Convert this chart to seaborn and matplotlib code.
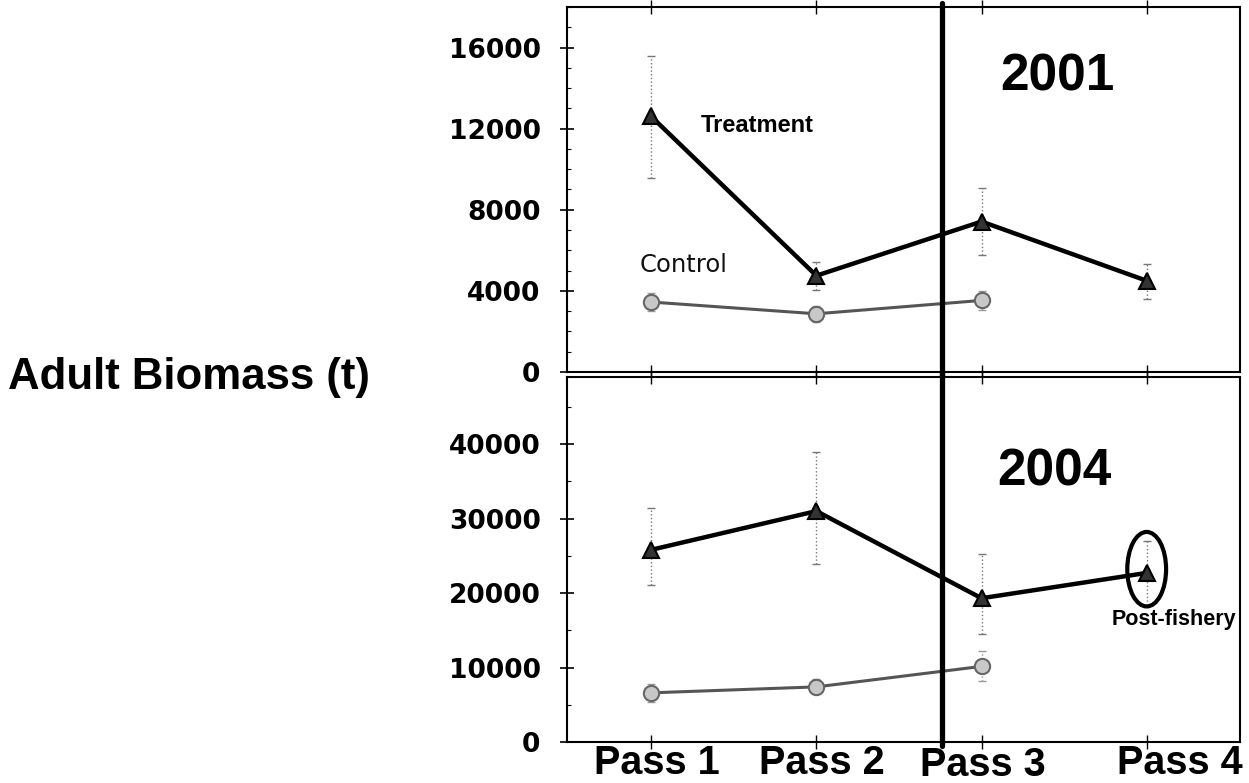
import numpy as np
import pandas as pd
import matplotlib
matplotlib.use("Agg")
import matplotlib.pyplot as plt
from matplotlib import font_manager
from matplotlib.patches import Ellipse
from matplotlib.ticker import MultipleLocator
import seaborn as sns

# ---------------- data ----------------
passes = ["Pass 1", "Pass 2", "Pass 3", "Pass 4"]

treat_2001 = [12600, 4750, 7420, 4500]
treat_2001_lo = [9550, 4020, 5780, 3580]
treat_2001_hi = [15600, 5420, 9060, 5350]
ctrl_2001 = [3450, 2870, 3530]
ctrl_2001_err = [450, 400, 450]

treat_2004 = [25800, 31000, 19300, 22700]
treat_2004_lo = [21100, 23900, 14500, 18400]
treat_2004_hi = [31400, 38900, 25200, 27000]
ctrl_2004 = [6600, 7400, 10150]
ctrl_2004_err = [1200, 1000, 2000]

yticks_2001 = [0, 4000, 8000, 12000, 16000]
yticks_2004 = [0, 10000, 20000, 30000, 40000]

# ---------------- style ----------------
sns.set_style("ticks")
names = {f.name for f in font_manager.fontManager.ttflist}
NARROW = "Liberation Sans Narrow" if "Liberation Sans Narrow" in names else "Liberation Sans"
plt.rcParams["font.family"] = ["Liberation Sans", "DejaVu Sans"]
plt.rcParams["text.color"] = "black"
plt.rcParams["xtick.color"] = "black"
plt.rcParams["ytick.color"] = "black"
plt.rcParams["xtick.labelcolor"] = "black"
plt.rcParams["ytick.labelcolor"] = "black"

fig = plt.figure(figsize=(12.49, 7.83), dpi=100)
W, H = 1249, 783
left, right = 567, 1240
ax1 = fig.add_axes([left / W, (H - 372) / H, (right - left) / W, (372 - 7) / H])
ax2 = fig.add_axes([left / W, (H - 742) / H, (right - left) / W, (742 - 377) / H])

xpos = np.arange(1, len(passes) + 1)


def draw_panel(ax, treat, lo, hi, ctrl, cerr, ylim, yticks, minor):
    nt = len(treat)
    nc = len(ctrl)
    dft = pd.DataFrame({"x": xpos[:nt], "y": treat})
    dfc = pd.DataFrame({"x": xpos[:nc], "y": ctrl})
    t = np.array(treat)
    eb = ax.errorbar(xpos[:nt], t, yerr=[t - np.array(lo), np.array(hi) - t],
                     fmt="none", ecolor="#777777", elinewidth=1.0, capsize=3,
                     capthick=1.0, zorder=1)
    for lc in eb[2]:
        lc.set_linestyle(":")
    eb2 = ax.errorbar(xpos[:nc], ctrl, yerr=cerr, fmt="none", ecolor="#999999",
                      elinewidth=1.0, capsize=3, capthick=1.0, zorder=1)
    for lc in eb2[2]:
        lc.set_linestyle(":")
    sns.lineplot(data=dfc, x="x", y="y", ax=ax, color="#555555", linewidth=2.2,
                 marker="o", markersize=11, markerfacecolor="#c8c8c8",
                 markeredgecolor="#666666", markeredgewidth=1.5, zorder=3)
    sns.lineplot(data=dft, x="x", y="y", ax=ax, color="black", linewidth=3.2,
                 marker="^", markersize=12, markerfacecolor="#333333",
                 markeredgecolor="black", markeredgewidth=1.5, zorder=4)
    ax.set_xlim(0.49, 4.565)
    ax.set_ylim(*ylim)
    ax.set_yticks(yticks)
    ax.set_yticklabels([str(v) for v in yticks], fontfamily="DejaVu Sans",
                       fontweight="bold", fontsize=19, color="black")
    ax.yaxis.set_minor_locator(MultipleLocator(minor))
    ax.set_xticks(xpos)
    ax.set_xticklabels([])
    ax.set_xlabel("")
    ax.set_ylabel("")
    ax.tick_params(axis="y", which="major", direction="inout", length=10, width=1.2, pad=14)
    ax.tick_params(axis="y", which="minor", direction="in", length=3, width=0.8)
    ax.tick_params(axis="x", which="major", direction="inout", length=10, width=1.0,
                   top=True, bottom=True)
    for s in ax.spines.values():
        s.set_linewidth(1.5)
        s.set_color("black")
        s.set_visible(True)
    ax.axvline(2.76, color="black", linewidth=3.8, zorder=5, clip_on=False,
               ymin=-0.01, ymax=1.01)


draw_panel(ax1, treat_2001, treat_2001_lo, treat_2001_hi, ctrl_2001, ctrl_2001_err,
           (0, 18000), yticks_2001, 1000)
draw_panel(ax2, treat_2004, treat_2004_lo, treat_2004_hi, ctrl_2004, ctrl_2004_err,
           (0, 49000), yticks_2004, 5000)

# annotations
ax1.text(1.30, 12170, "Treatment", fontsize=17, fontweight="bold", va="center", ha="left")
ax1.text(0.93, 5300, "Control", fontsize=17.5, fontfamily="DejaVu Sans", va="center",
         ha="left", color="#111111")
ax1.text(3.46, 14550, "2001", fontsize=37, fontweight="bold", va="center", ha="center")
ax2.text(3.44, 36300, "2004", fontsize=37, fontweight="bold", va="center", ha="center")
ax2.text(3.79, 16500, "Post-fishery", fontsize=15.5, fontweight="bold", va="center", ha="left")
ax2.add_patch(Ellipse((xpos[3], treat_2004[3] + 500), width=0.235, height=10000,
                      fill=False, edgecolor="black", linewidth=3.0, zorder=6))

# pass labels
label_offsets = [0.036, 0.036, 0.01, 0.2]
label_dy = [0, 0, -1.5, 0]
for i, lab in enumerate(passes):
    ax2.annotate(lab, xy=(xpos[i] + label_offsets[i], 0), xycoords=("data", "axes fraction"),
                 xytext=(0, -15 + label_dy[i]), textcoords="offset points",
                 ha="center", va="center", fontsize=28.5, fontweight="bold",
                 fontfamily=NARROW, annotation_clip=False)

fig.text(8 / W, (H - 378) / H, "Adult Biomass (t)", fontsize=31.5, fontweight="bold",
         ha="left", va="center")

fig.savefig("out.png", dpi=100)
